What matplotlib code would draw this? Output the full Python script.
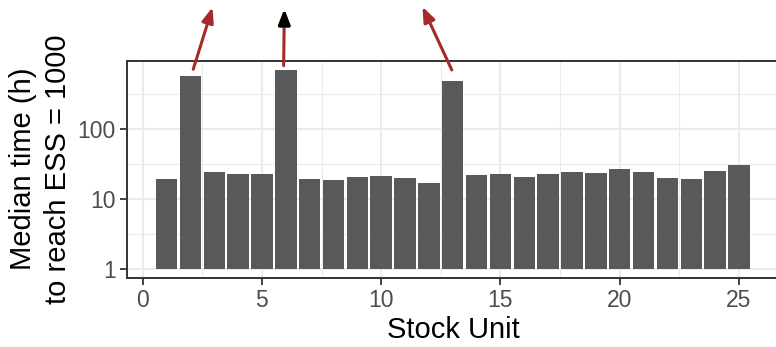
import numpy as np
import matplotlib
matplotlib.use("Agg")
import matplotlib.pyplot as plt

# median time (h) per stock unit
units = list(range(1, 26))
median_h = [19.1, 566, 24.1, 22.5, 22.5, 690, 19.1, 18.5, 20.4, 21.1,
            19.8, 16.8, 480, 21.8, 22.5, 20.4, 22.5, 24.1, 23.3, 26.6,
            24.1, 19.8, 19.1, 24.9, 30.3]

# arrows pointing at off-scale values: (tail x, tail y, tip x, tip y, head colour)
arrow_tail_x = [2.12, 5.91, 12.96]
arrow_tail_y = [705, 795, 690]
arrow_tip_x = [2.93, 5.94, 11.73]
arrow_tip_y = [5420, 5080, 5530]
arrow_head_col = ["#A52A2A", "black", "#A52A2A"]

plt.rcParams["font.family"] = ["Liberation Sans", "DejaVu Sans"]

fig = plt.figure(figsize=(7.76, 3.47), dpi=100)
ax = fig.add_axes([126.7 / 776, 1 - 277.7 / 347, 652.8 / 776, 217.0 / 347])

vals = np.array(median_h)
ax.bar(units, vals - 1, bottom=1, width=0.9, color="#595959", zorder=2)

ax.set_yscale("log")
ax.set_ylim(10 ** -0.129, 10 ** 2.971)
ax.set_xlim(-0.67, 26.7)

ax.set_yticks([1, 10, 100])
ax.set_yticklabels(["1", "10", "100"])
ax.set_yticks([10 ** 0.5, 10 ** 1.5, 10 ** 2.5], minor=True)
ax.set_xticks([0, 5, 10, 15, 20, 25])
ax.set_xticks([2.5, 7.5, 12.5, 17.5, 22.5], minor=True)

ax.grid(which="major", color="#EBEBEB", linewidth=1.5, zorder=0)
ax.grid(which="minor", color="#EBEBEB", linewidth=0.75, zorder=0)
ax.set_axisbelow(True)

ax.tick_params(which="major", length=5, width=1.3, color="#333333",
               labelsize=16.5, labelcolor="#4D4D4D", pad=3)
ax.tick_params(which="minor", length=0)
for s in ax.spines.values():
    s.set_color("#333333")
    s.set_linewidth(1.4)

ax.set_xlabel("Stock Unit", fontsize=21, labelpad=3)
ax.set_ylabel("Median time (h)\nto reach ESS = 1000", fontsize=21,
              labelpad=4, linespacing=1.3)

head = "-|>,head_length=0.9,head_width=0.35"
for tx, ty, hx, hy, hc in zip(arrow_tail_x, arrow_tail_y, arrow_tip_x,
                              arrow_tip_y, arrow_head_col):
    ax.annotate("", xy=(hx, hy), xytext=(tx, ty), xycoords="data",
                annotation_clip=False,
                arrowprops=dict(arrowstyle=head, color="#A52A2A", lw=2.2,
                                shrinkA=0, shrinkB=0))
    if hc != "#A52A2A":
        # overlay a head of another colour on the last bit of the shaft
        ax.annotate("", xy=(hx, hy), xytext=(hx, hy / 10 ** 0.17),
                    xycoords="data", annotation_clip=False,
                    arrowprops=dict(arrowstyle=head, color=hc, lw=2.2,
                                    shrinkA=0, shrinkB=0))

fig.savefig("out.png", dpi=100)
